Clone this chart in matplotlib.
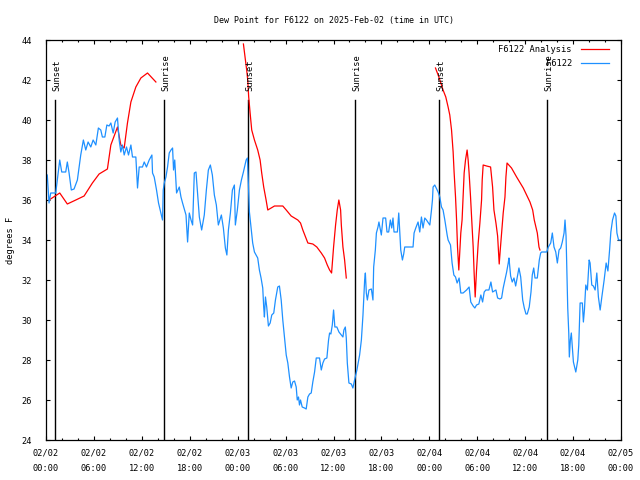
# import libraries
import numpy as np
import matplotlib
matplotlib.use('Agg')
import matplotlib.pyplot as plt

# hours since 2025-02-02 00:00 UTC and dew point (F) for the station obs
obs_hours = [0.16, 0.38, 0.59, 1.22, 1.72, 1.97, 2.47, 2.67, 2.89, 3.17,
             3.51, 3.93, 4.35, 4.68, 4.98, 5.27, 5.61, 5.90, 6.24, 6.56,
             6.86, 7.06, 7.37, 7.62, 7.90, 8.12, 8.41, 8.66, 8.95, 9.16,
             9.37, 9.57, 9.79, 10.08, 10.33, 10.63, 10.83, 11.25, 11.46, 11.67,
             12.08, 12.30, 12.58, 12.92, 13.26, 13.34, 13.55, 13.84, 14.09, 14.39,
             14.59, 14.68, 14.81, 15.02, 15.22, 15.43, 15.65, 15.85, 15.97, 16.12,
             16.35, 16.69, 16.90, 17.10, 17.53, 17.73, 17.94, 18.16, 18.36, 18.57,
             18.78, 18.95, 19.20, 19.49, 19.82, 20.08, 20.33, 20.58, 20.83, 21.08,
             21.33, 21.58, 21.96, 22.21, 22.46, 22.65, 22.84, 23.09, 23.34, 23.59,
             23.71, 23.96, 24.22, 24.47, 24.72, 25.06, 25.22, 25.47, 25.68, 25.88,
             26.10, 26.31, 26.51, 26.72, 26.93, 27.14, 27.26, 27.35, 27.48, 27.64,
             27.85, 28.07, 28.27, 28.52, 28.73, 29.02, 29.23, 29.45, 29.65, 29.86,
             30.08, 30.28, 30.49, 30.70, 30.90, 31.12, 31.33, 31.46, 31.62, 31.74,
             31.87, 32.08, 32.37, 32.58, 32.79, 33.00, 33.21, 33.41, 33.63, 33.84,
             34.25, 34.47, 34.67, 34.88, 35.17, 35.38, 35.51, 35.67, 35.85, 36.01,
             36.17, 36.42, 36.68, 36.98, 37.18, 37.30, 37.48, 37.60, 37.73, 37.93,
             38.23, 38.43, 38.64, 38.93, 39.27, 39.49, 39.69, 39.90, 39.99, 40.11,
             40.24, 40.44, 40.74, 40.87, 40.94, 41.03, 41.24, 41.37, 41.57, 41.69,
             41.87, 41.99, 42.20, 42.53, 42.70, 42.91, 43.12, 43.29, 43.45, 43.58,
             44.00, 44.17, 44.42, 44.63, 44.79, 44.92, 45.96, 46.09, 46.30, 46.59,
             46.80, 47.01, 47.21, 47.43, 47.64, 48.06, 48.27, 48.39, 48.47, 48.68,
             49.10, 49.31, 49.52, 49.72, 49.94, 50.23, 50.35, 50.65, 50.85, 51.07,
             51.28, 51.48, 51.73, 51.94, 52.23, 52.66, 52.98, 53.19, 53.49, 53.70,
             53.91, 54.20, 54.45, 54.67, 54.87, 55.08, 55.46, 55.71, 55.92, 56.34,
             56.55, 56.84, 57.05, 57.25, 57.47, 57.68, 57.88, 57.97, 58.18, 58.38,
             58.60, 58.81, 59.01, 59.22, 59.44, 59.69, 59.89, 60.10, 60.26, 60.51,
             60.73, 60.89, 61.07, 61.23, 61.52, 61.77, 61.94, 62.07, 62.70, 62.90,
             63.20, 63.40, 63.61, 63.83, 64.03, 64.24, 64.45, 64.65, 64.87, 64.99,
             65.12, 65.24, 65.33, 65.46, 65.53, 65.66, 65.78, 66.04, 66.34, 66.59,
             66.71, 66.88, 67.16, 67.29, 67.42, 67.59, 67.79, 68.01, 68.13, 68.34,
             68.54, 68.76, 68.97, 69.17, 69.39, 69.60, 69.89, 70.14, 70.36, 70.57,
             70.73, 70.94, 71.19, 71.36, 71.49, 71.69, 71.90]
obs_dewpt = [37.25, 35.85, 36.35, 36.35, 38.0, 37.4, 37.4, 37.9, 37.35, 36.5,
             36.55, 37.0, 38.25, 39.0, 38.5, 38.9, 38.65, 39.0, 38.75, 39.6,
             39.5, 39.15, 39.15, 39.75, 39.7, 39.85, 39.35, 39.9, 40.1, 39.0,
             38.4, 38.75, 38.25, 38.65, 38.25, 38.75, 38.15, 38.15, 36.6, 37.65,
             37.65, 37.9, 37.65, 38.0, 38.25, 37.35, 37.15, 36.5, 35.85, 35.35,
             35.0, 36.5, 36.85, 37.15, 37.65, 38.35, 38.5, 38.6, 37.5, 38.0,
             36.35, 36.65, 36.15, 35.85, 35.25, 33.9, 35.35, 35.0, 34.75, 37.35,
             37.4, 36.5, 35.15, 34.5, 35.25, 36.5, 37.5, 37.75, 37.25, 36.25,
             35.75, 34.75, 35.25, 34.6, 33.6, 33.25, 34.5, 35.35, 36.5, 36.75,
             34.75, 35.5, 36.5, 37.0, 37.4, 38.0, 38.1, 35.4, 34.6, 33.85,
             33.4, 33.25, 33.1, 32.5, 32.1, 31.6, 30.65, 30.15, 31.15, 30.65,
             29.7, 29.85, 30.25, 30.35, 31.0, 31.65, 31.7, 31.0, 30.0, 29.15,
             28.25, 27.85, 27.15, 26.6, 26.9, 26.95, 26.65, 26.0, 26.15, 25.75,
             26.0, 25.65, 25.6, 25.55, 26.15, 26.3, 26.35, 26.9, 27.4, 28.1,
             28.1, 27.5, 27.85, 28.05, 28.1, 29.0, 29.35, 29.3, 29.75, 30.5,
             29.65, 29.65, 29.4, 29.25, 29.15, 29.5, 29.65, 29.1, 27.85, 26.85,
             26.8, 26.6, 27.0, 27.5, 28.25, 29.0, 30.25, 32.0, 32.35, 31.35,
             31.0, 31.5, 31.55, 31.2, 31.0, 32.65, 33.5, 34.35, 34.65, 34.9,
             34.5, 34.25, 35.1, 35.1, 34.4, 34.4, 35.0, 34.6, 35.1, 34.4,
             34.4, 35.35, 33.5, 33.0, 33.3, 33.65, 33.65, 34.35, 34.6, 34.9,
             34.4, 35.15, 34.6, 35.1, 35.0, 34.75, 35.5, 36.0, 36.65, 36.75,
             36.4, 36.15, 35.65, 35.5, 35.0, 34.25, 34.0, 33.75, 32.85, 32.25,
             32.15, 31.85, 32.1, 31.35, 31.35, 31.5, 31.65, 30.9, 30.7, 30.6,
             30.75, 30.8, 31.25, 30.9, 31.4, 31.5, 31.5, 31.9, 31.4, 31.5,
             31.1, 31.05, 31.1, 31.6, 32.0, 32.4, 32.85, 33.1, 32.2, 31.9,
             32.1, 31.7, 32.15, 32.6, 32.15, 31.0, 30.6, 30.3, 30.3, 30.65,
             31.4, 32.25, 32.6, 32.1, 32.1, 33.0, 33.35, 33.4, 33.4, 33.65,
             33.85, 34.35, 33.65, 33.4, 32.85, 33.5, 33.6, 33.9, 34.35, 35.0,
             34.2, 32.25, 30.6, 29.35, 28.15, 29.0, 29.35, 27.9, 27.4, 28.0,
             28.75, 30.85, 30.85, 29.9, 30.5, 31.75, 31.5, 33.0, 32.85, 31.75,
             31.7, 31.5, 32.35, 31.15, 30.5, 31.15, 32.0, 32.85, 32.45, 33.5,
             34.4, 35.0, 35.35, 35.2, 34.35, 34.0, 34.0]

# analysis series, three separate runs (gaps between them)
ana_hours_1 = [0.38, 1.72, 2.67, 3.73, 4.77, 5.81, 6.65, 7.69, 8.12, 8.95,
               9.37, 9.79, 10.20, 10.63, 11.25, 11.88, 12.71, 13.76]
ana_dewpt_1 = [36.0, 36.35, 35.8, 36.0, 36.2, 36.85, 37.3, 37.55, 38.75, 39.65,
               38.75, 38.6, 39.85, 40.9, 41.65, 42.1, 42.35, 41.9]
ana_hours_2 = [24.72, 24.97, 25.13, 25.26, 25.38, 25.56, 25.76, 26.10, 26.51, 26.81,
               27.01, 27.26, 27.56, 27.77, 28.19, 28.61, 29.65, 30.08, 30.70, 31.53,
               31.87, 32.16, 32.50, 32.79, 33.41, 33.91, 34.47, 34.88, 35.22, 35.51,
               35.76, 36.01, 36.26, 36.47, 36.67, 36.89, 36.98, 37.18, 37.39, 37.60]
ana_dewpt_2 = [43.8, 43.0, 42.5, 42.0, 41.15, 40.35, 39.5, 39.0, 38.5, 38.0,
               37.35, 36.65, 36.0, 35.5, 35.6, 35.7, 35.7, 35.5, 35.2, 35.0,
               34.85, 34.5, 34.15, 33.85, 33.8, 33.65, 33.35, 33.1, 32.75, 32.5,
               32.35, 33.65, 34.75, 35.5, 36.0, 35.5, 34.75, 33.65, 33.0, 32.1]
ana_hours_3 = [48.77, 49.10, 49.40, 49.72, 50.06, 50.35, 50.56, 50.78, 50.98, 51.10,
               51.28, 51.41, 51.53, 51.69, 51.94, 52.10, 52.36, 52.53, 52.73, 52.86,
               52.98, 53.16, 53.29, 53.49, 53.61, 53.74, 53.91, 54.12, 54.33, 54.54,
               54.62, 54.74, 55.17, 55.67, 55.92, 56.09, 56.34, 56.55, 56.75, 56.88,
               57.05, 57.25, 57.47, 57.59, 57.73, 58.29, 58.93, 59.76, 60.60, 60.94,
               61.14, 61.52, 61.73, 61.85]
ana_dewpt_3 = [42.6, 42.25, 41.9, 41.5, 41.15, 40.65, 40.25, 39.5, 38.4, 37.4,
               36.15, 35.0, 33.65, 32.5, 34.35, 35.0, 37.35, 38.0, 38.5, 38.0,
               37.35, 36.15, 35.15, 33.65, 32.35, 31.15, 32.5, 33.85, 34.85, 36.0,
               37.0, 37.75, 37.7, 37.65, 36.65, 35.5, 34.85, 34.2, 32.8, 33.5,
               34.35, 35.35, 36.15, 37.15, 37.85, 37.6, 37.15, 36.6, 35.9, 35.5,
               35.0, 34.35, 33.65, 33.5]

# sun events (hours since start)
sun_hours = [1.13, 14.72, 25.26, 38.68, 49.22, 62.77]
sun_labels = ['Sunset', 'Sunrise', 'Sunset', 'Sunrise', 'Sunset', 'Sunrise']

# x tick labels every 6 hours
tick_dates = ['02/02', '02/02', '02/02', '02/02', '02/03', '02/03', '02/03',
              '02/03', '02/04', '02/04', '02/04', '02/04', '02/05']
tick_times = ['00:00', '06:00', '12:00', '18:00', '00:00', '06:00', '12:00',
              '18:00', '00:00', '06:00', '12:00', '18:00', '00:00']


def dewpoint_plot(out_name):
    """
    dewpoint_plot draws the station dew point with the analysis and the
    sunrise / sunset markers, gnuplot style.
    """
    font = 'DejaVu Sans Mono'
    plt.rcParams['font.family'] = font
    plt.rcParams['font.size'] = 6

    fig = plt.figure(figsize=(6.4, 4.8), dpi=100)
    ax = fig.add_axes([46/640, 40/480, 575/640, 400/480])

    # sunrise / sunset lines
    for h, lab in zip(sun_hours, sun_labels):
        ax.plot([h, h], [24, 41.0], color='k', lw=1.0)
        ax.annotate(lab, xy=(h, 41.45), xytext=(1.5, 0),
                    textcoords='offset points', rotation=90,
                    ha='center', va='bottom', fontsize=6.3)

    # analysis (three runs, same style)
    ana_line, = ax.plot(ana_hours_1, ana_dewpt_1, color='#ff0000', lw=0.9,
                        label='F6122 Analysis')
    ax.plot(ana_hours_2, ana_dewpt_2, color='#ff0000', lw=0.9)
    ax.plot(ana_hours_3, ana_dewpt_3, color='#ff0000', lw=0.9)

    # observations
    obs_line, = ax.plot(obs_hours, obs_dewpt, color='#1e90ff', lw=0.9,
                        label='F6122')

    # plot formatting
    ax.set_xlim((0, 72))
    ax.set_ylim((24, 44))
    ax.set_xticks(np.arange(0, 73, 6))
    ax.set_xticks(np.arange(0, 73, 2), minor=True)
    ax.set_xticklabels([d + '\n' + t for d, t in zip(tick_dates, tick_times)],
                       linespacing=2.0)
    ax.set_yticks(np.arange(24, 45, 2))
    ax.tick_params(which='both', direction='in', top=True, right=True,
                   width=0.8, labelsize=6.2)
    ax.tick_params(which='major', length=3.2)
    ax.tick_params(which='minor', length=1.6)
    ax.tick_params(axis='x', pad=6)
    ax.tick_params(axis='y', pad=10)
    for sp in ax.spines.values():
        sp.set_linewidth(0.9)
    ax.set_ylabel('degrees F', fontsize=6.3)
    ax.yaxis.set_label_coords(-31/575, 0.5)

    ax.legend(handles=[ana_line, obs_line], loc='upper right',
              frameon=False, markerfirst=False, fontsize=6.3,
              handlelength=3.2, handletextpad=1.0, labelspacing=0.5,
              borderaxespad=0.3, borderpad=0.3,
              bbox_to_anchor=(1 - 7/575, 1.0))

    fig.text(0.5 * (46 + 621) / 640, 1 - 20/480,
             'Dew Point for F6122 on 2025-Feb-02 (time in UTC)',
             ha='center', va='center', fontsize=6.0)

    plt.savefig(out_name, dpi=100)


def main():
    dewpoint_plot('out.png')


if __name__ == '__main__':
    main()
